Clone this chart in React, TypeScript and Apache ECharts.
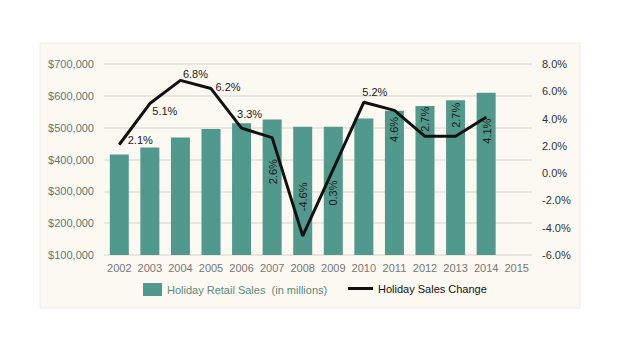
import React, { useEffect, useRef } from "react";
import * as echarts from "echarts";

const years = ["2002", "2003", "2004", "2005", "2006", "2007", "2008", "2009", "2010", "2011", "2012", "2013", "2014", "2015"];
const salesValues = [416000, 438000, 469000, 496000, 514000, 526000, 503000, 503000, 529000, 553000, 568000, 586000, 610000];
const changeValues = [2.1, 5.1, 6.8, 6.2, 3.3, 2.6, -4.6, 0.3, 5.2, 4.6, 2.7, 2.7, 4.1];
// label offsets from each point [dx, dy] and rotation
const labelOffsets: number[][] = [[21, -4], [15, 7], [15, -6], [17, -2], [8, -14], [1, 34], [0, -39], [0, 24], [11, -10], [0, 19], [0, -17], [0, -21], [1, 14]];
const labelRotations = [0, 0, 0, 0, 0, 90, 90, 90, 0, 90, 90, 90, 90];

const barName = "Holiday Retail Sales  (in millions)";
const lineName = "Holiday Sales Change";
const FONT = "Liberation Sans, Arial, sans-serif";

export default function App() {
  const ref = useRef<HTMLDivElement>(null);
  useEffect(() => {
    if (!ref.current) return;
    const chart = echarts.init(ref.current, null, { renderer: "svg" });
    const lineData = changeValues.map((v, i) => ({
      value: v,
      label: {
        show: true,
        position: [labelOffsets[i][0] + 0.5, labelOffsets[i][1] + 0.5],
        rotate: labelRotations[i],
        align: "center",
        verticalAlign: "middle",
        formatter: (p: any) => p.value.toFixed(1) + "%",
        color: "#1a1a1a",
        fontSize: 11,
        fontFamily: FONT,
      },
    }));
    chart.setOption({
      animation: false,
      textStyle: { fontFamily: FONT },
      graphic: {
        elements: [
          {
            type: "rect",
            z: -100,
            shape: { x: 40, y: 43, width: 540, height: 265 },
            style: { fill: "#fcf9f3", stroke: "#f1ede6", lineWidth: 1 },
          },
        ],
      },
      grid: { left: 104, right: 88, top: 64, bottom: 100 },
      legend: [
        {
          data: [barName],
          left: 143,
          top: 283,
          padding: 0,
          itemWidth: 19,
          itemHeight: 13,
          icon: "rect",
          textStyle: { color: "#5a8a80", fontSize: 11, fontFamily: FONT },
        },
        {
          data: [{ name: lineName, icon: "rect" }],
          left: 348,
          top: 283,
          padding: 0,
          itemWidth: 25,
          itemHeight: 3,
          textStyle: { color: "#111", fontSize: 11, fontFamily: FONT },
        },
      ],
      xAxis: {
        type: "category",
        data: years,
        axisLine: { show: false },
        axisTick: { show: false },
        axisLabel: { color: "#777", fontSize: 11, margin: 7, interval: 0, fontFamily: FONT },
      },
      yAxis: [
        {
          type: "value",
          min: 100000,
          max: 700000,
          interval: 100000,
          axisLabel: {
            color: "#5b7b74",
            fontSize: 11,
            margin: 10,
            fontFamily: FONT,
            formatter: (v: number) => "$" + v.toLocaleString("en-US"),
          },
          splitLine: { lineStyle: { color: "#e2dfd9", width: 1.5 } },
        },
        {
          type: "value",
          min: -6,
          max: 8,
          interval: 2,
          axisLabel: {
            color: "#333",
            fontSize: 11,
            margin: 10,
            fontFamily: FONT,
            formatter: (v: number) => v.toFixed(1) + "%",
          },
          splitLine: { show: false },
        },
      ],
      series: [
        {
          name: barName,
          type: "bar",
          data: salesValues,
          barWidth: 19,
          itemStyle: { color: "#50998c" },
        },
        {
          name: lineName,
          type: "line",
          yAxisIndex: 1,
          data: lineData,
          symbol: "circle",
          symbolSize: 1,
          showSymbol: true,
          itemStyle: { color: "#111" },
          lineStyle: { color: "#111", width: 3 },
          z: 5,
        },
      ],
    });
    return () => chart.dispose();
  }, []);
  return (
    <div
      ref={ref}
      style={{ position: "absolute", left: 0, top: 0, width: 620, height: 355, background: "#fff" }}
    />
  );
}
